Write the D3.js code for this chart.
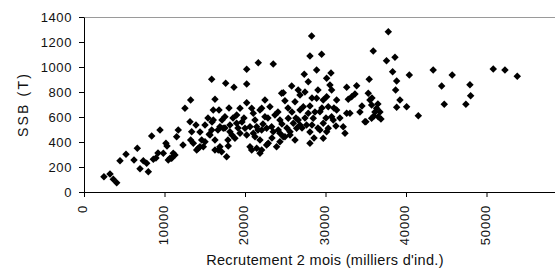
<!DOCTYPE html>
<html>
<head>
<meta charset="utf-8">
<script src="https://cdn.jsdelivr.net/npm/d3@7"></script>
<style>
  body { margin: 0; background: #fff; }
  svg { display: block; font-family: "Liberation Sans", Arial, sans-serif; }
</style>
</head>
<body>
<svg id="chart"></svg>
<script>
// recrutement (milliers d'ind.)
const recrutement = [
  2480, 3230, 3640, 4060, 4470, 5220, 6210, 6620, 6960, 7370,
  7790, 7990, 8410, 8610, 8940, 9190, 9440, 9850, 10180, 10310,
  10470, 10890, 11300, 11510, 11710, 12300, 12540, 13250, 13170, 13380,
  13250, 13580, 14000, 14200, 14620, 14820, 15030, 15560, 11090, 10680,
  15860, 17600, 18630, 20210, 21650, 23510, 20210, 16270, 16060, 20210,
  20830, 19380, 18970, 22070, 23100, 24550, 16060, 17510, 17300, 15860,
  16890, 18130, 18960, 20000, 21030, 22690, 23510, 24340, 26410, 27650,
  29720, 16270, 16680, 17100, 17920, 17720, 14410, 16890, 18750, 19380,
  20210, 20830, 21860, 22070, 22890, 23920, 24340, 24750, 25590, 28070,
  29720, 30140, 30340, 32200, 32420, 34900, 21240, 21860, 20620, 21450,
  22690, 28280, 28070, 29520, 28900, 27360, 27860, 25800, 24750, 26610,
  26830, 30140, 30550, 28900, 29720, 24960, 26210, 27240, 27860, 28480,
  29310, 30340, 30760, 21030, 21860, 22480, 23720, 24340, 25370, 26000,
  26610, 20620, 21450, 22070, 23310, 24130, 24960, 25590, 30680, 30760,
  30140, 37800, 35930, 37580, 38630, 38340, 40410, 38840, 38710, 39250,
  40080, 41530, 38840, 35430, 33870, 32630, 33660, 32830, 31380, 33250,
  35310, 35520, 35730, 36350, 36550, 35730, 35020, 30960, 33040, 32630,
  35770, 36140, 36760, 36020, 36890, 36510, 31380, 31790, 34280, 34530,
  43380, 45740, 44430, 47940, 48030, 44750, 47440, 50840, 52290, 53820,
  15030, 15400, 15900, 16640, 17140, 17510, 18130, 18380, 19130, 19620,
  19870, 15650, 16270, 17880, 18510, 16770, 18010, 14410, 13910,
  21240, 21610, 22230, 22850, 23350, 24090, 24590, 25210, 25830, 26330,
  26830, 27080, 27450, 28070, 28320, 28690, 29060, 29560, 30060, 31050,
  31300, 27450, 28320, 29060, 25340, 22480, 26830, 28070, 29310, 28570,
  26210
];
// SSB (T)
const ssb = [
  122, 144, 102, 74, 250, 302, 256, 350, 186, 250,
  230, 162, 448, 262, 272, 312, 496, 310, 390, 368,
  256, 270, 296, 442, 496, 376, 670, 736, 562, 482,
  416, 390, 336, 350, 416, 362, 402, 462, 310, 270,
  902, 870, 838, 982, 1034, 1024, 864, 742, 656, 714,
  670, 670, 616, 670, 682, 790, 576, 602, 510, 496,
  522, 482, 550, 510, 470, 510, 482, 470, 510, 536,
  550, 336, 336, 322, 368, 282, 362, 362, 430, 470,
  456, 336, 310, 336, 390, 362, 402, 442, 456, 390,
  430, 482, 510, 522, 470, 562, 442, 416, 362, 350,
  376, 1248, 1088, 1102, 976, 942, 882, 848, 794, 816,
  776, 910, 856, 750, 736, 730, 722, 682, 630, 590,
  642, 682, 602, 630, 656, 602, 616, 576, 590, 550,
  576, 522, 522, 496, 522, 496, 442, 482, 952, 816,
  762, 1282, 1128, 1050, 1078, 962, 936, 888, 816, 736,
  682, 610, 678, 902, 850, 838, 784, 742, 736, 762,
  790, 736, 696, 670, 602, 590, 562, 576, 630, 630,
  752, 640, 640, 608, 584, 704, 656, 592, 640, 688,
  976, 936, 848, 858, 770, 702, 702, 984, 976, 926,
  536, 592, 560, 496, 576, 512, 536, 456, 512, 560,
  592, 456, 416, 416, 592, 656, 672, 480, 536,
  576, 496, 544, 592, 432, 640, 544, 512, 640, 592,
  656, 512, 592, 688, 536, 640, 512, 672, 592, 672,
  528, 800, 752, 816, 672, 736, 536, 480, 496, 432,
  416
];
const xTicks = [0, 10000, 20000, 30000, 40000, 50000];
const yTicks = [0, 200, 400, 600, 800, 1000, 1200, 1400];

const data = recrutement.map((r, i) => ({ r: r, s: ssb[i] }));

const width = 555, height = 269;
const margin = { top: 17, left: 84, bottom: 77 };

const svg = d3.select('#chart')
  .attr('width', width)
  .attr('height', height);

const xscale = d3.scaleLinear().domain([0, 60000]).range([margin.left, 567]);
const yscale = d3.scaleLinear().domain([0, 1400]).range([height - margin.bottom, margin.top]);

// top border of plot area
svg.append('line')
  .attr('x1', margin.left).attr('x2', width)
  .attr('y1', margin.top + 0.5).attr('y2', margin.top + 0.5)
  .attr('stroke', '#9a9a9a');

// points
svg.append('g')
  .selectAll('path')
  .data(data)
  .enter()
  .append('path')
  .attr('d', d3.symbol(d3.symbolSquare, 28))
  .attr('transform', d => `translate(${xscale(d.r)}, ${yscale(d.s)}) rotate(45)`)
  .attr('fill', '#000');

// y axis
const yaxis = d3.axisLeft(yscale)
  .tickValues(yTicks)
  .tickFormat(d3.format('d'))
  .tickSize(5)
  .tickPadding(7)
  .tickSizeOuter(0);

const yg = svg.append('g')
  .attr('transform', `translate(${margin.left}, 0)`)
  .call(yaxis);
yg.selectAll('text')
  .style('font-size', '13px')
  .style('letter-spacing', '0.6px')
  .attr('fill', '#111');
yg.select('.domain').attr('stroke', '#000');

// x axis
const xaxis = d3.axisBottom(xscale)
  .tickValues(xTicks)
  .tickFormat(d3.format('d'))
  .tickSize(5)
  .tickPadding(8)
  .tickSizeOuter(0);

const xg = svg.append('g')
  .attr('transform', `translate(0, ${height - margin.bottom})`)
  .call(xaxis);
xg.selectAll('text')
  .style('font-size', '13px')
  .style('letter-spacing', '0.8px')
  .attr('fill', '#111')
  .attr('transform', 'rotate(-90)')
  .attr('text-anchor', 'end')
  .attr('x', -13)
  .attr('y', 0)
  .attr('dy', '0.2em');
xg.select('.domain').attr('stroke', '#000');

// axis titles
svg.append('text')
  .attr('transform', `translate(28, ${(margin.top + height - margin.bottom) / 2}) rotate(-90)`)
  .attr('text-anchor', 'middle')
  .style('font-size', '14px')
  .style('letter-spacing', '2.2px')
  .attr('fill', '#111')
  .text('SSB (T)');

svg.append('text')
  .attr('x', 325)
  .attr('y', 265)
  .attr('text-anchor', 'middle')
  .style('font-size', '14.5px')
  .style('letter-spacing', '0.3px')
  .attr('fill', '#111')
  .text("Recrutement 2 mois (milliers d'ind.)");
</script>
</body>
</html>
